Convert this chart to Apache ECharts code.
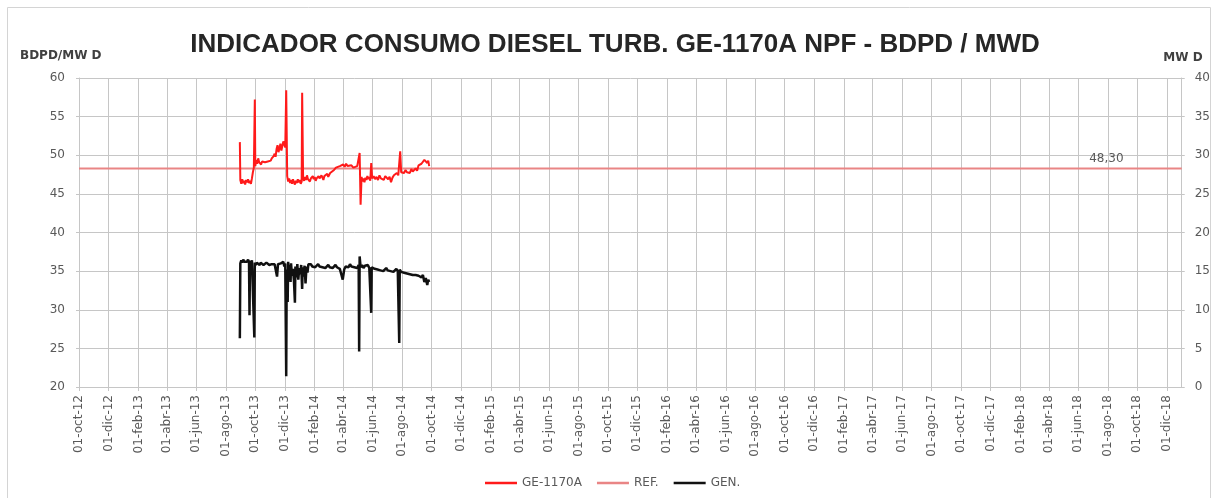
<!DOCTYPE html>
<html>
<head>
<meta charset="utf-8">
<script src="https://cdn.jsdelivr.net/npm/echarts@6/dist/echarts.min.js"></script>
<style>
  html, body { margin: 0; padding: 0; background: #ffffff; }
  #chart { width: 1213px; height: 498px; }
</style>
</head>
<body>
<div id="chart"></div>
<script>
// Month abbreviations used in the date tick labels (01-oct-12 ...)
const monthNames = ['ene','feb','mar','abr','may','jun','jul','ago','sep','oct','nov','dic'];

// Daily date axis range
const axisStart = '2012-10-01';
const axisEnd = '2019-01-01';

// Reference consumption level (BDPD / MWD)
const refValue = 48.3;
const refLabelDate = '2018-07-29';

// GE-1170A consumption indicator, BDPD / MWD (left axis)
const ge1170aDates = [
  '2013-08-30','2013-08-31','2013-09-02','2013-09-04','2013-09-06','2013-09-08','2013-09-10','2013-09-12','2013-09-14','2013-09-16',
  '2013-09-18','2013-09-20','2013-09-22','2013-09-24','2013-09-26','2013-09-28','2013-09-30','2013-10-01','2013-10-03','2013-10-05',
  '2013-10-07','2013-10-09','2013-10-11','2013-10-13','2013-10-15','2013-10-17','2013-10-19','2013-10-21','2013-10-23','2013-10-25',
  '2013-10-27','2013-10-29','2013-10-31','2013-11-02','2013-11-04','2013-11-06','2013-11-08','2013-11-10','2013-11-12','2013-11-14',
  '2013-11-16','2013-11-18','2013-11-20','2013-11-22','2013-11-24','2013-11-26','2013-11-28','2013-11-30','2013-12-02','2013-12-04',
  '2013-12-06','2013-12-08','2013-12-10','2013-12-12','2013-12-14','2013-12-16','2013-12-18','2013-12-20','2013-12-22','2013-12-24',
  '2013-12-26','2013-12-28','2013-12-30','2014-01-01','2014-01-03','2014-01-05','2014-01-06','2014-01-08','2014-01-10','2014-01-12',
  '2014-01-14','2014-01-16','2014-01-18','2014-01-20','2014-01-22','2014-01-24','2014-01-26','2014-01-28','2014-01-30','2014-02-01',
  '2014-02-03','2014-02-05','2014-02-07','2014-02-09','2014-02-11','2014-02-13','2014-02-15','2014-02-17','2014-02-19','2014-02-21',
  '2014-02-23','2014-02-25','2014-02-27','2014-03-01','2014-03-05','2014-03-09','2014-03-13','2014-03-17','2014-03-21','2014-03-25',
  '2014-03-29','2014-04-01','2014-04-04','2014-04-07','2014-04-10','2014-04-14','2014-04-18','2014-04-22','2014-04-26','2014-04-30',
  '2014-05-03','2014-05-05','2014-05-07','2014-05-09','2014-05-11','2014-05-13','2014-05-15','2014-05-17','2014-05-19','2014-05-21',
  '2014-05-23','2014-05-25','2014-05-27','2014-05-29','2014-05-31','2014-06-03','2014-06-06','2014-06-09','2014-06-12','2014-06-15',
  '2014-06-18','2014-06-21','2014-06-24','2014-06-27','2014-06-30','2014-07-03','2014-07-06','2014-07-09','2014-07-12','2014-07-15',
  '2014-07-18','2014-07-21','2014-07-24','2014-07-28','2014-07-30','2014-08-02','2014-08-05','2014-08-08','2014-08-11','2014-08-14',
  '2014-08-17','2014-08-20','2014-08-23','2014-08-26','2014-08-29','2014-09-01','2014-09-04','2014-09-07','2014-09-10','2014-09-13',
  '2014-09-16','2014-09-19','2014-09-22','2014-09-24','2014-09-26'
];
const ge1170aValues = [
  51.7,46.8,46.3,46.9,46.4,46.7,46.2,46.8,46.5,46.9,
  46.4,46.7,46.3,47.0,47.8,48.4,57.2,48.6,49.4,48.9,
  49.6,49.1,49.3,48.8,49.2,49.0,49.4,49.1,49.3,48.9,
  49.2,49.0,49.4,49.3,49.6,49.4,49.9,50.2,49.8,50.8,
  51.3,50.4,50.9,51.5,50.6,51.2,51.8,51.4,51.0,58.4,
  47.3,46.6,47.0,46.4,46.8,46.3,46.9,46.5,46.2,46.7,
  46.4,46.9,46.5,46.8,46.3,46.6,58.1,47.0,46.7,47.2,
  46.8,47.4,46.9,47.1,46.6,47.0,46.8,47.3,46.9,47.2,
  46.7,47.0,46.8,47.3,47.0,46.9,47.4,47.1,46.8,47.3,
  47.5,47.1,47.6,47.2,47.7,47.9,48.1,48.4,48.2,48.6,
  48.5,48.8,48.5,48.9,48.6,48.5,48.7,48.4,48.3,48.6,
  48.7,50.3,43.6,47.2,46.6,47.0,46.5,47.1,46.8,47.3,
  46.9,47.2,46.7,49.0,47.0,47.3,46.9,47.2,46.8,47.4,
  47.0,47.2,46.8,47.3,47.1,46.9,47.2,46.5,47.1,47.4,
  47.2,47.7,47.4,50.5,47.8,48.0,47.7,48.1,47.8,48.0,
  47.7,48.2,47.9,48.1,48.3,48.0,48.7,48.5,48.9,49.1,
  49.4,49.6,49.0,49.3,48.6
];

// Generation, MW D (right axis)
const genDates = [
  '2013-08-30','2013-08-31','2013-09-02','2013-09-04','2013-09-06','2013-09-08','2013-09-10','2013-09-12','2013-09-14','2013-09-16',
  '2013-09-18','2013-09-19','2013-09-20','2013-09-22','2013-09-24','2013-09-26','2013-09-28','2013-09-29','2013-09-30','2013-10-02',
  '2013-10-04','2013-10-06','2013-10-08','2013-10-10','2013-10-12','2013-10-14','2013-10-16','2013-10-18','2013-10-20','2013-10-22',
  '2013-10-24','2013-10-26','2013-10-28','2013-10-30','2013-11-01','2013-11-04','2013-11-07','2013-11-10','2013-11-13','2013-11-15',
  '2013-11-17','2013-11-19','2013-11-21','2013-11-23','2013-11-26','2013-11-28','2013-11-30','2013-12-02','2013-12-04','2013-12-05',
  '2013-12-07','2013-12-08','2013-12-10','2013-12-11','2013-12-13','2013-12-14','2013-12-16','2013-12-18','2013-12-20','2013-12-22',
  '2013-12-23','2013-12-25','2013-12-27','2013-12-29','2013-12-31','2014-01-02','2014-01-04','2014-01-06','2014-01-07','2014-01-09',
  '2014-01-11','2014-01-13','2014-01-15','2014-01-17','2014-01-19','2014-01-21','2014-01-24','2014-01-27','2014-01-30','2014-02-02',
  '2014-02-05','2014-02-08','2014-02-11','2014-02-14','2014-02-17','2014-02-20','2014-02-23','2014-02-26','2014-03-01','2014-03-04',
  '2014-03-07','2014-03-10','2014-03-13','2014-03-16','2014-03-19','2014-03-22','2014-03-25','2014-03-28','2014-03-31','2014-04-03',
  '2014-04-06','2014-04-09','2014-04-12','2014-04-15','2014-04-18','2014-04-21','2014-04-24','2014-04-27','2014-04-30','2014-05-03',
  '2014-05-04','2014-05-05','2014-05-07','2014-05-10','2014-05-13','2014-05-16','2014-05-19','2014-05-22','2014-05-25','2014-05-28',
  '2014-05-29','2014-05-30','2014-06-02','2014-06-05','2014-06-08','2014-06-11','2014-06-14','2014-06-17','2014-06-20','2014-06-23',
  '2014-06-26','2014-06-29','2014-07-02','2014-07-05','2014-07-08','2014-07-11','2014-07-14','2014-07-17','2014-07-20','2014-07-23',
  '2014-07-26','2014-07-27','2014-07-30','2014-08-02','2014-08-05','2014-08-08','2014-08-11','2014-08-14','2014-08-17','2014-08-20',
  '2014-08-23','2014-08-26','2014-08-29','2014-09-01','2014-09-04','2014-09-07','2014-09-10','2014-09-13','2014-09-16','2014-09-19',
  '2014-09-22','2014-09-24','2014-09-26'
];
const genValues = [
  6.3,16.0,16.4,16.1,16.5,16.2,16.0,16.4,16.2,16.5,
  16.1,9.3,16.3,16.0,16.4,16.2,16.5,6.4,16.1,15.8,
  16.1,15.9,16.0,15.8,16.1,15.9,16.0,15.8,16.0,15.9,
  16.1,15.9,16.0,15.8,16.0,15.9,16.1,15.9,16.0,14.3,
  15.9,16.1,15.8,16.0,15.9,16.2,15.6,16.0,1.4,15.2,
  11.0,16.2,14.1,15.8,13.6,16.0,14.4,15.3,13.8,10.9,
  15.6,14.2,15.9,13.9,15.4,14.6,15.8,12.7,15.5,14.3,
  15.7,13.4,15.6,14.8,15.9,15.7,15.9,15.6,15.8,15.5,
  15.7,15.9,15.6,15.8,15.5,15.7,15.4,15.6,15.8,15.5,
  15.7,15.4,15.6,15.8,15.5,15.7,15.3,14.6,13.9,15.2,
  15.6,15.8,15.5,15.9,15.6,15.8,15.5,15.7,15.4,15.8,
  4.6,16.9,15.5,15.8,15.4,15.7,15.5,15.8,15.4,15.6,
  9.6,15.5,15.7,15.3,15.5,15.2,15.4,15.1,15.3,15.0,
  15.2,15.4,15.1,15.3,15.0,15.2,14.9,15.1,15.3,15.0,
  5.7,15.2,14.9,15.1,14.8,15.0,14.7,14.9,14.6,14.8,
  14.5,14.7,14.5,14.6,14.4,14.6,14.2,14.5,13.6,14.1,
  13.2,13.9,13.6
];

// One category per calendar day so positions follow real time
function buildDays(start, end) {
  const out = [];
  const t0 = Date.parse(start + 'T00:00:00Z');
  const t1 = Date.parse(end + 'T00:00:00Z');
  for (let t = t0; t <= t1; t += 86400000) out.push(new Date(t).toISOString().slice(0, 10));
  return out;
}
const days = buildDays(axisStart, axisEnd);

// Ticks, labels and grid lines on the first day of every second month
function isTickDay(idx, value) {
  return value.slice(8) === '01' && Number(value.slice(5, 7)) % 2 === 0;
}
function formatDay(value) {
  const m = Number(value.slice(5, 7));
  return '01-' + monthNames[m - 1] + '-' + value.slice(2, 4);
}
function pairs(dates, values) {
  return dates.map((d, i) => [d, values[i]]);
}

const gridColor = '#c6c6c6';
const textColor = '#595959';
const tickFont = 'DejaVu Sans';

const chart = echarts.init(document.getElementById('chart'), null, { renderer: 'canvas' });
chart.setOption({
  animation: false,
  backgroundColor: '#ffffff',
  grid: { left: 79, right: 30, top: 78, bottom: 111, containLabel: false },
  graphic: [
    {
      type: 'rect', silent: true, z: -1,
      shape: { x: 7.5, y: 7.5, width: 1203, height: 500 },
      style: { fill: 'none', stroke: '#d4d4d4', lineWidth: 1 }
    },
    {
      type: 'text', x: 615, y: 45,
      style: {
        text: 'INDICADOR CONSUMO DIESEL TURB. GE-1170A NPF - BDPD / MWD',
        font: 'bold 26px "Liberation Sans"', fill: '#262626',
        textAlign: 'center', textVerticalAlign: 'middle'
      }
    },
    {
      type: 'text', x: 20, y: 56,
      style: {
        text: 'BDPD/MW D', font: 'bold 12px "DejaVu Sans"', fill: '#404040',
        textAlign: 'left', textVerticalAlign: 'middle'
      }
    },
    {
      type: 'text', x: 1183, y: 58,
      style: {
        text: 'MW D', font: 'bold 12px "DejaVu Sans"', fill: '#404040',
        textAlign: 'center', textVerticalAlign: 'middle'
      }
    }
  ],
  legend: {
    left: 480, top: 472,
    icon: 'rect', itemWidth: 32, itemHeight: 2.5, itemGap: 15,
    textStyle: { color: textColor, fontSize: 12, fontFamily: tickFont },
    data: ['GE-1170A', 'REF.', 'GEN.']
  },
  xAxis: {
    type: 'category',
    data: days,
    boundaryGap: false,
    axisLine: { show: true, lineStyle: { color: gridColor, width: 1 } },
    axisTick: { show: true, interval: isTickDay, length: 4, lineStyle: { color: gridColor } },
    axisLabel: {
      interval: isTickDay, rotate: 90, margin: 8,
      color: textColor, fontSize: 12, fontFamily: tickFont,
      formatter: formatDay
    },
    splitLine: { show: true, interval: isTickDay, lineStyle: { color: gridColor, width: 1 } }
  },
  yAxis: [
    {
      type: 'value', min: 20, max: 60, interval: 5, position: 'left',
      axisLine: { show: true, lineStyle: { color: gridColor } },
      axisTick: { show: true, length: 3, lineStyle: { color: gridColor } },
      axisLabel: { color: textColor, fontSize: 12, fontFamily: tickFont, margin: 14 },
      splitLine: { show: true, lineStyle: { color: gridColor, width: 1 } }
    },
    {
      type: 'value', min: 0, max: 40, interval: 5, position: 'right',
      axisLine: { show: true, lineStyle: { color: gridColor } },
      axisTick: { show: true, length: 3, lineStyle: { color: gridColor } },
      axisLabel: { color: textColor, fontSize: 12, fontFamily: tickFont, margin: 13 },
      splitLine: { show: false }
    }
  ],
  series: [
    {
      name: 'GE-1170A', type: 'line', yAxisIndex: 0,
      showSymbol: false, symbol: 'none',
      color: '#ff1a1a',
      lineStyle: { color: '#ff1a1a', width: 2 },
      data: pairs(ge1170aDates, ge1170aValues),
      z: 4
    },
    {
      name: 'REF.', type: 'line', yAxisIndex: 0,
      showSymbol: true, showAllSymbol: true, symbol: 'circle', symbolSize: 0,
      color: '#e98585',
      lineStyle: { color: '#e98585', width: 2 },
      data: [
        [axisStart, refValue],
        {
          value: [refLabelDate, refValue],
          label: {
            show: true, position: 'top', distance: 4,
            color: textColor, fontSize: 12, fontFamily: tickFont,
            formatter: () => refValue.toFixed(2).replace('.', ',')
          }
        },
        [axisEnd, refValue]
      ],
      z: 3
    },
    {
      name: 'GEN.', type: 'line', yAxisIndex: 1,
      showSymbol: false, symbol: 'none',
      color: '#111111',
      lineStyle: { color: '#111111', width: 2.5 },
      data: pairs(genDates, genValues),
      z: 5
    }
  ]
});
</script>
</body>
</html>
